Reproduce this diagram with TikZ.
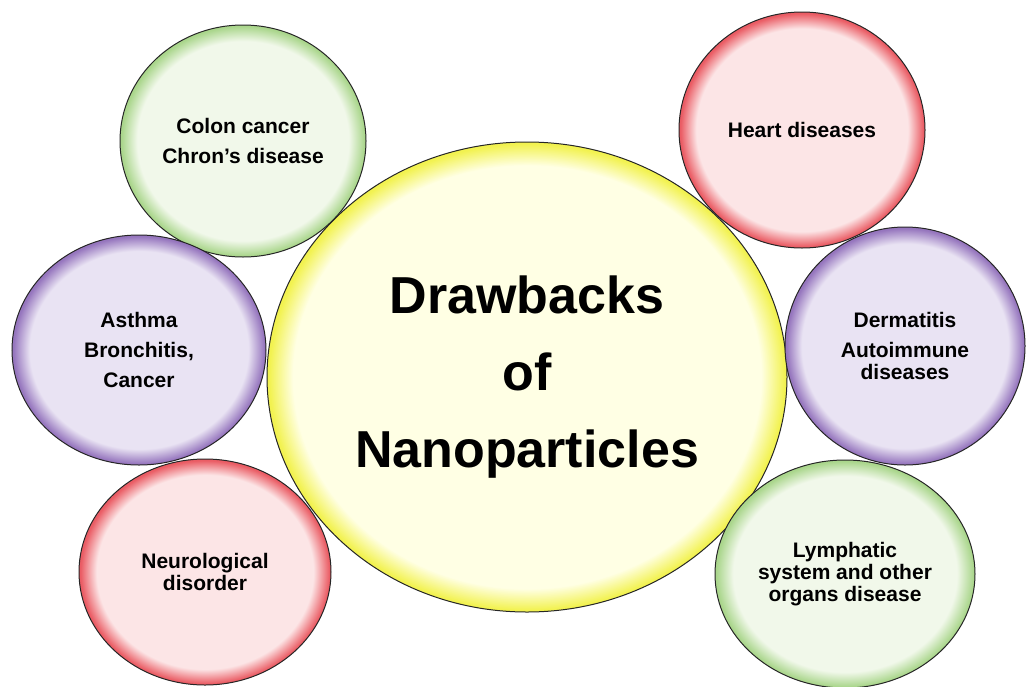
\documentclass[tikz,border=0pt]{standalone}
\usepackage{fontspec}
\setmainfont{Liberation Sans}
\usepackage{tikz}
\usetikzlibrary{shapes.geometric}
\usepackage{xcolor}
\definecolor{grnIn}{RGB}{241, 248, 234}
\definecolor{grnRim}{RGB}{170, 214, 140}
\definecolor{purIn}{RGB}{233, 227, 243}
\definecolor{purRim}{RGB}{150, 118, 190}
\definecolor{redIn}{RGB}{252, 229, 230}
\definecolor{redRim}{RGB}{234, 92, 100}
\definecolor{ylwIn}{RGB}{255, 255, 228}
\definecolor{ylwRim}{RGB}{242, 242, 80}
\pgfdeclareradialshading{bubgreen}{\pgfpoint{0bp}{0bp}}{color(0bp)=(grnIn); color(21.5bp)=(grnIn); color(24.7bp)=(grnRim); color(50bp)=(grnRim)}
\pgfdeclareradialshading{bubpurple}{\pgfpoint{0bp}{0bp}}{color(0bp)=(purIn); color(21.5bp)=(purIn); color(24.7bp)=(purRim); color(50bp)=(purRim)}
\pgfdeclareradialshading{bubred}{\pgfpoint{0bp}{0bp}}{color(0bp)=(redIn); color(21.5bp)=(redIn); color(24.7bp)=(redRim); color(50bp)=(redRim)}
\pgfdeclareradialshading{bubyellow}{\pgfpoint{0bp}{0bp}}{color(0bp)=(ylwIn); color(22.5bp)=(ylwIn); color(24.8bp)=(ylwRim); color(50bp)=(ylwRim)}

\begin{document}
\begin{tikzpicture}[
  x=1pt, y=-1pt,
  bubble/.style={ellipse, draw=black!85, line width=1pt, inner sep=0pt,
    align=center, font=\fontsize{21}{22}\selectfont\bfseries, shade},
  greenbub/.style={bubble, shading=bubgreen},
  purplebub/.style={bubble, shading=bubpurple},
  redbub/.style={bubble, shading=bubred}
]
  \useasboundingbox (0,0) rectangle (1026,686);

  % centre
  \node[bubble, shading=bubyellow, minimum width=520pt, minimum height=470pt,
        font=\fontsize{52}{77}\selectfont\bfseries] (core) at (527,377)
        {Drawbacks\\of\\Nanoparticles};

  % left side
  \node[greenbub, minimum width=246pt, minimum height=232pt] (colon) at (243,141)
        {Colon cancer\\[8pt]Chron’s disease};
  \node[purplebub, minimum width=254pt, minimum height=230pt] (asthma) at (139,350)
        {Asthma\\[8pt]Bronchitis,\\[8pt]Cancer};
  \node[redbub, minimum width=252pt, minimum height=226pt] (neuro) at (205,572)
        {Neurological\\disorder};

  % right side
  \node[redbub, minimum width=246pt, minimum height=236pt] (heart) at (802,130)
        {Heart diseases};
  \node[purplebub, minimum width=240pt, minimum height=238pt] (derma) at (905,346)
        {Dermatitis\\[8pt]Autoimmune\\diseases};
  \node[greenbub, minimum width=260pt, minimum height=228pt] (lymph) at (845,574)
        {Lymphatic\\system and other\\organs disease};
\end{tikzpicture}
\end{document}
